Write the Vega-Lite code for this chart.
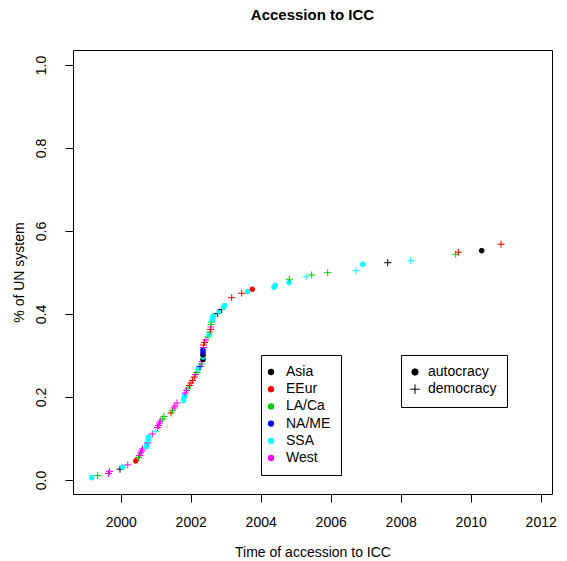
{
  "$schema": "https://vega.github.io/schema/vega-lite/v6.json",
  "width": 479,
  "height": 444,
  "autosize": {"type": "none"},
  "padding": {"left": 73, "top": 50, "right": 15, "bottom": 67},
  "background": "white",
  "title": {"text": "Accession to ICC", "font": "Liberation Sans", "fontSize": 15, "fontWeight": "bold", "color": "black", "anchor": "middle", "frame": "group", "baseline": "alphabetic", "offset": 15},
  "config": {
    "view": {"stroke": "black", "strokeWidth": 1},
    "axis": {"grid": false, "domain": false, "tickColor": "black", "tickSize": 8, "labelColor": "black", "titleColor": "black", "labelFont": "Liberation Sans", "titleFont": "Liberation Sans", "labelFontSize": 14, "titleFontSize": 14, "titleFontWeight": "normal"},
    "legend": {"labelFont": "Liberation Sans", "labelFontSize": 14, "labelColor": "black"}
  },
  "data": {"values": [
    {"year": 1999.171, "share": 0.0055, "region": "SSA", "regime": "autocracy"},
    {"year": 1999.343, "share": 0.0108, "region": "LA/Ca", "regime": "democracy"},
    {"year": 1999.651, "share": 0.0157, "region": "West", "regime": "democracy"},
    {"year": 1999.68, "share": 0.0207, "region": "West", "regime": "democracy"},
    {"year": 1999.98, "share": 0.026, "region": "Asia", "regime": "democracy"},
    {"year": 2000.057, "share": 0.0313, "region": "SSA", "regime": "autocracy"},
    {"year": 2000.2, "share": 0.0364, "region": "West", "regime": "democracy"},
    {"year": 2000.429, "share": 0.0458, "region": "EEur", "regime": "autocracy"},
    {"year": 2000.509, "share": 0.0542, "region": "LA/Ca", "regime": "democracy"},
    {"year": 2000.537, "share": 0.059, "region": "West", "regime": "democracy"},
    {"year": 2000.566, "share": 0.0651, "region": "West", "regime": "democracy"},
    {"year": 2000.594, "share": 0.0699, "region": "West", "regime": "democracy"},
    {"year": 2000.623, "share": 0.0747, "region": "West", "regime": "democracy"},
    {"year": 2000.737, "share": 0.0802, "region": "SSA", "regime": "autocracy"},
    {"year": 2000.743, "share": 0.0855, "region": "SSA", "regime": "autocracy"},
    {"year": 2000.771, "share": 0.0892, "region": "West", "regime": "democracy"},
    {"year": 2000.78, "share": 0.094, "region": "SSA", "regime": "democracy"},
    {"year": 2000.789, "share": 0.0988, "region": "SSA", "regime": "autocracy"},
    {"year": 2000.794, "share": 0.1036, "region": "SSA", "regime": "autocracy"},
    {"year": 2000.903, "share": 0.1108, "region": "West", "regime": "democracy"},
    {"year": 2001.0, "share": 0.1164, "region": "SSA", "regime": "democracy"},
    {"year": 2001.051, "share": 0.1265, "region": "West", "regime": "democracy"},
    {"year": 2001.08, "share": 0.1313, "region": "West", "regime": "democracy"},
    {"year": 2001.109, "share": 0.1373, "region": "West", "regime": "democracy"},
    {"year": 2001.137, "share": 0.1422, "region": "West", "regime": "democracy"},
    {"year": 2001.189, "share": 0.147, "region": "LA/Ca", "regime": "democracy"},
    {"year": 2001.237, "share": 0.153, "region": "LA/Ca", "regime": "democracy"},
    {"year": 2001.437, "share": 0.1614, "region": "EEur", "regime": "democracy"},
    {"year": 2001.48, "share": 0.1675, "region": "LA/Ca", "regime": "democracy"},
    {"year": 2001.523, "share": 0.1735, "region": "West", "regime": "democracy"},
    {"year": 2001.551, "share": 0.1783, "region": "West", "regime": "democracy"},
    {"year": 2001.609, "share": 0.1855, "region": "West", "regime": "democracy"},
    {"year": 2001.794, "share": 0.1916, "region": "SSA", "regime": "autocracy"},
    {"year": 2001.809, "share": 0.1976, "region": "SSA", "regime": "autocracy"},
    {"year": 2001.823, "share": 0.2036, "region": "SSA", "regime": "autocracy"},
    {"year": 2001.837, "share": 0.2096, "region": "West", "regime": "democracy"},
    {"year": 2001.88, "share": 0.2157, "region": "West", "regime": "democracy"},
    {"year": 2001.923, "share": 0.2217, "region": "LA/Ca", "regime": "democracy"},
    {"year": 2001.966, "share": 0.2277, "region": "EEur", "regime": "democracy"},
    {"year": 2002.009, "share": 0.2337, "region": "EEur", "regime": "democracy"},
    {"year": 2002.051, "share": 0.2398, "region": "EEur", "regime": "democracy"},
    {"year": 2002.103, "share": 0.2482, "region": "EEur", "regime": "democracy"},
    {"year": 2002.137, "share": 0.2542, "region": "West", "regime": "democracy"},
    {"year": 2002.18, "share": 0.259, "region": "LA/Ca", "regime": "democracy"},
    {"year": 2002.217, "share": 0.2675, "region": "SSA", "regime": "autocracy"},
    {"year": 2002.266, "share": 0.2735, "region": "NA/ME", "regime": "democracy"},
    {"year": 2002.309, "share": 0.2795, "region": "LA/Ca", "regime": "democracy"},
    {"year": 2002.323, "share": 0.2855, "region": "West", "regime": "democracy"},
    {"year": 2002.351, "share": 0.2904, "region": "Asia", "regime": "autocracy"},
    {"year": 2002.351, "share": 0.2964, "region": "SSA", "regime": "autocracy"},
    {"year": 2002.351, "share": 0.3012, "region": "Asia", "regime": "autocracy"},
    {"year": 2002.351, "share": 0.3072, "region": "NA/ME", "regime": "autocracy"},
    {"year": 2002.351, "share": 0.3133, "region": "NA/ME", "regime": "autocracy"},
    {"year": 2002.366, "share": 0.3193, "region": "West", "regime": "democracy"},
    {"year": 2002.366, "share": 0.3253, "region": "EEur", "regime": "democracy"},
    {"year": 2002.394, "share": 0.3313, "region": "EEur", "regime": "democracy"},
    {"year": 2002.437, "share": 0.3373, "region": "West", "regime": "democracy"},
    {"year": 2002.494, "share": 0.3446, "region": "LA/Ca", "regime": "democracy"},
    {"year": 2002.523, "share": 0.3506, "region": "SSA", "regime": "autocracy"},
    {"year": 2002.551, "share": 0.3566, "region": "LA/Ca", "regime": "democracy"},
    {"year": 2002.566, "share": 0.3627, "region": "EEur", "regime": "democracy"},
    {"year": 2002.58, "share": 0.3687, "region": "West", "regime": "democracy"},
    {"year": 2002.58, "share": 0.3747, "region": "LA/Ca", "regime": "democracy"},
    {"year": 2002.594, "share": 0.3807, "region": "LA/Ca", "regime": "democracy"},
    {"year": 2002.609, "share": 0.3855, "region": "SSA", "regime": "autocracy"},
    {"year": 2002.623, "share": 0.3916, "region": "SSA", "regime": "autocracy"},
    {"year": 2002.651, "share": 0.3964, "region": "SSA", "regime": "autocracy"},
    {"year": 2002.771, "share": 0.4012, "region": "Asia", "regime": "democracy"},
    {"year": 2002.817, "share": 0.4055, "region": "SSA", "regime": "autocracy"},
    {"year": 2002.886, "share": 0.4108, "region": "Asia", "regime": "democracy"},
    {"year": 2002.937, "share": 0.4157, "region": "SSA", "regime": "autocracy"},
    {"year": 2002.966, "share": 0.4205, "region": "SSA", "regime": "autocracy"},
    {"year": 2003.171, "share": 0.4393, "region": "EEur", "regime": "democracy"},
    {"year": 2003.457, "share": 0.4499, "region": "EEur", "regime": "democracy"},
    {"year": 2003.617, "share": 0.4537, "region": "SSA", "regime": "autocracy"},
    {"year": 2003.76, "share": 0.4595, "region": "EEur", "regime": "autocracy"},
    {"year": 2004.38, "share": 0.4643, "region": "SSA", "regime": "autocracy"},
    {"year": 2004.417, "share": 0.4692, "region": "SSA", "regime": "autocracy"},
    {"year": 2004.809, "share": 0.4754, "region": "SSA", "regime": "autocracy"},
    {"year": 2004.817, "share": 0.4836, "region": "LA/Ca", "regime": "democracy"},
    {"year": 2005.294, "share": 0.4899, "region": "SSA", "regime": "democracy"},
    {"year": 2005.457, "share": 0.494, "region": "LA/Ca", "regime": "democracy"},
    {"year": 2005.914, "share": 0.4995, "region": "LA/Ca", "regime": "democracy"},
    {"year": 2006.723, "share": 0.5043, "region": "SSA", "regime": "democracy"},
    {"year": 2006.914, "share": 0.5198, "region": "SSA", "regime": "autocracy"},
    {"year": 2007.629, "share": 0.5236, "region": "Asia", "regime": "democracy"},
    {"year": 2008.286, "share": 0.5284, "region": "SSA", "regime": "democracy"},
    {"year": 2009.571, "share": 0.5439, "region": "LA/Ca", "regime": "democracy"},
    {"year": 2009.646, "share": 0.5487, "region": "EEur", "regime": "democracy"},
    {"year": 2010.314, "share": 0.5525, "region": "Asia", "regime": "autocracy"},
    {"year": 2010.866, "share": 0.568, "region": "EEur", "regime": "democracy"}
  ]},
  "mark": {"type": "point", "filled": true, "opacity": 1, "strokeWidth": 1, "size": 22},
  "encoding": {
    "x": {"field": "year", "type": "quantitative",
      "scale": {"domain": [1998.637, 2012.323], "nice": false, "zero": false},
      "axis": {"values": [2000, 2002, 2004, 2006, 2008, 2010, 2012], "format": "d", "labelBaseline": "alphabetic", "labelPadding": 24, "labelFlush": false, "title": "Time of accession to ICC", "titleBaseline": "alphabetic", "titleY": 62, "titleAnchor": "middle"}},
    "y": {"field": "share", "type": "quantitative",
      "scale": {"domain": [-0.0338, 1.0361], "nice": false, "zero": false},
      "axis": {"values": [0, 0.2, 0.4, 0.6, 0.8, 1.0], "format": ".1f", "labelAngle": 270, "labelAlign": "center", "labelBaseline": "alphabetic", "labelPadding": 19.5, "labelFlush": false, "title": "% of UN system", "titleAngle": 270, "titleAlign": "center", "titleBaseline": "alphabetic", "titleX": -50, "titleY": 222}},
    "fill": {"field": "region", "type": "nominal",
      "scale": {"domain": ["Asia", "EEur", "LA/Ca", "NA/ME", "SSA", "West"], "range": ["#000000", "#FF0000", "#00CD00", "#0000FF", "#00FFFF", "#FF00FF"]},
      "legend": {"title": null, "orient": "none", "legendX": 188, "legendY": 305, "strokeColor": "black", "padding": 10, "symbolType": "circle", "symbolSize": 40, "symbolStrokeWidth": 0, "symbolOpacity": 1, "symbolOffset": -7, "labelOffset": 8, "rowPadding": 3.2, "fillColor": "white"}},
    "stroke": {"field": "region", "type": "nominal",
      "scale": {"domain": ["Asia", "EEur", "LA/Ca", "NA/ME", "SSA", "West"], "range": ["#000000", "#FF0000", "#00CD00", "#0000FF", "#00FFFF", "#FF00FF"]},
      "legend": null},
    "shape": {"field": "regime", "type": "nominal",
      "scale": {"domain": ["autocracy", "democracy"], "range": ["circle", "M-1.5,0H1.5M0,-1.5V1.5"]},
      "legend": {"title": null, "orient": "none", "legendX": 328, "legendY": 305, "strokeColor": "black", "padding": 10, "symbolSize": 40, "symbolFillColor": "black", "symbolStrokeColor": "black", "symbolStrokeWidth": 1, "symbolOpacity": 1, "symbolOffset": -3, "labelOffset": 6, "rowPadding": 3.2, "fillColor": "white"}}
  }
}
